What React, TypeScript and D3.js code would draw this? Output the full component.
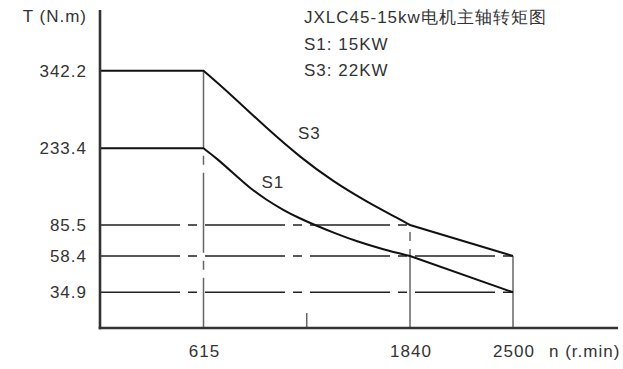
import React, { useEffect, useRef } from 'react';
import * as d3 from 'd3';

// speed breakpoints (r/min) and torque levels (N.m)
const speedTicks = [615, 1840, 2500];
const minorTicks = [1227.5];
const torqueTicks = [34.9, 58.4, 85.5, 233.4, 342.2];

// S3 curve: flat, constant-power curve, then straight to 2500
const s3Speed = [615, 792, 990, 1187, 1385, 1583, 1781, 1840];
const s3Torque = [342.2, 305.7, 261.4, 216.6, 169.0, 130.4, 96.1, 85.5];
const s3End = { n: 2500, t: 58.4 };

// S1 curve
const s1Speed = [615, 693, 792, 891, 990, 1088, 1187, 1282, 1385, 1524, 1682, 1840];
const s1Torque = [233.4, 214.1, 185.2, 156.3, 133.7, 114.4, 98.0, 85.1, 78.9, 71.1, 64.1, 58.4];
const s1End = { n: 2500, t: 34.9 };

// guide lines: torque level and the speed where each one stops
const guideLevels = [85.5, 58.4, 34.9];
const guideStops = [1840, 2500, 2500];

const titleLines = ['JXLC45-15kw电机主轴转矩图', 'S1: 15KW', 'S3: 22KW'];

const App = () => {
  const ref = useRef<SVGSVGElement>(null);

  useEffect(() => {
    const svg = d3.select(ref.current);
    svg.selectAll('*').remove();

    const font = '"Liberation Sans", Arial, sans-serif';
    const ink = '#333';

    // schematic (piecewise) scales, like the original drawing
    const x = d3.scaleLinear().domain([0, 615, 1840, 2500]).range([100, 203.5, 410, 513]);
    const y = d3
      .scaleLinear()
      .domain([0, 34.9, 58.4, 85.5, 233.4, 342.2])
      .range([328, 292.3, 256, 225, 148.3, 70.7]);

    const dash = '80 8 9 8';

    // horizontal dash-dot guides
    guideLevels.forEach((t, i) => {
      svg
        .append('line')
        .attr('x1', x(0))
        .attr('x2', x(guideStops[i]))
        .attr('y1', y(t))
        .attr('y2', y(t))
        .attr('stroke', '#222')
        .attr('stroke-width', 1.4)
        .attr('stroke-dasharray', dash);
    });

    // vertical guides
    svg
      .append('line')
      .attr('x1', x(615))
      .attr('x2', x(615))
      .attr('y1', y(342.2))
      .attr('y2', y(0))
      .attr('stroke', '#666')
      .attr('stroke-width', 1.5)
      .attr('stroke-dasharray', dash)
      .attr('stroke-dashoffset', 3);
    svg
      .append('line')
      .attr('x1', x(1840))
      .attr('x2', x(1840))
      .attr('y1', y(85.5))
      .attr('y2', y(0))
      .attr('stroke', '#666')
      .attr('stroke-width', 1.5)
      .attr('stroke-dasharray', dash)
      .attr('stroke-dashoffset', 81);
    svg
      .append('line')
      .attr('x1', x(2500))
      .attr('x2', x(2500))
      .attr('y1', y(58.4))
      .attr('y2', y(0))
      .attr('stroke', '#666')
      .attr('stroke-width', 1.5);

    // small tick between 615 and 1840
    minorTicks.forEach((n) => {
      svg
        .append('line')
        .attr('x1', x(n))
        .attr('x2', x(n))
        .attr('y1', y(0) - 15)
        .attr('y2', y(0))
        .attr('stroke', '#666')
        .attr('stroke-width', 1.5);
    });

    // curves
    const smooth = d3
      .line<[number, number]>()
      .x((d) => x(d[0]))
      .y((d) => y(d[1]))
      .curve(d3.curveBasis);
    const straight = d3
      .line<[number, number]>()
      .x((d) => x(d[0]))
      .y((d) => y(d[1]));

    const drawCurve = (speeds: number[], torques: number[], end: { n: number; t: number }) => {
      const pts = speeds.map((n, i) => [n, torques[i]] as [number, number]);
      const first = pts[0];
      const last = pts[pts.length - 1];
      const path =
        straight([[0, first[1]], first])! +
        smooth(pts)!.replace(/^M/, 'L') +
        straight([last, [end.n, end.t]])!.replace(/^M/, 'L');
      svg
        .append('path')
        .attr('d', path)
        .attr('fill', 'none')
        .attr('stroke', '#111')
        .attr('stroke-width', 2)
        .attr('stroke-linejoin', 'miter');
    };
    drawCurve(s3Speed, s3Torque, s3End);
    drawCurve(s1Speed, s1Torque, s1End);

    // axes
    svg
      .append('line')
      .attr('x1', x(0))
      .attr('x2', x(0))
      .attr('y1', 10)
      .attr('y2', y(0) + 1.3)
      .attr('stroke', ink)
      .attr('stroke-width', 2.6);
    svg
      .append('line')
      .attr('x1', x(0) - 1.3)
      .attr('x2', 618)
      .attr('y1', y(0))
      .attr('y2', y(0))
      .attr('stroke', ink)
      .attr('stroke-width', 2.6);

    const txt = (s: string, tx: number, ty: number, anchor = 'start') =>
      svg
        .append('text')
        .attr('x', tx)
        .attr('y', ty)
        .attr('text-anchor', anchor)
        .attr('font-family', font)
        .attr('font-size', 17)
        .attr('letter-spacing', 1)
        .attr('fill', ink)
        .text(s);

    // y tick labels
    torqueTicks.forEach((t) => txt(String(t), 87, y(t) + 6, 'end'));
    txt('T (N.m)', 87, 21.5, 'end');

    // x tick labels
    speedTicks.forEach((n) => txt(String(n), x(n) + 1, 357, 'middle'));
    txt('n (r.min)', 549, 357);

    // title block
    titleLines.forEach((s, i) => txt(s, 304, 23 + i * 26.5));

    // curve names
    txt('S3', 298, 139);
    txt('S1', 261.5, 188);
  }, []);

  return (
    <svg
      ref={ref}
      width={623}
      height={369}
      style={{ position: 'absolute', left: 0, top: 0, background: '#fff' }}
    />
  );
};

export default App;
